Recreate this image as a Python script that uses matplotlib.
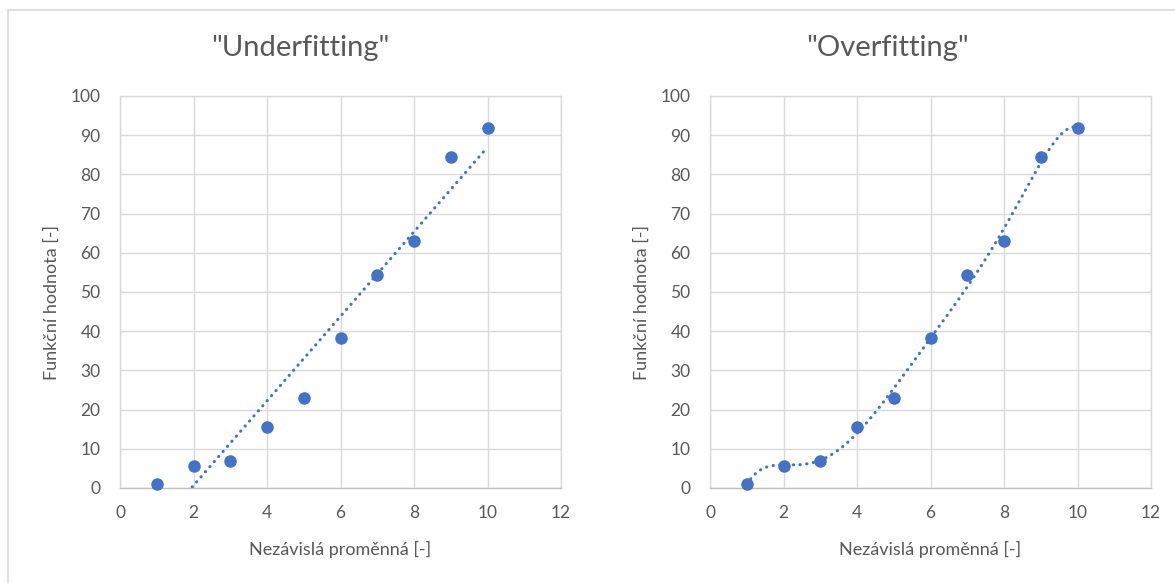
import numpy as np
import matplotlib
matplotlib.use("Agg")
import matplotlib.pyplot as plt
from matplotlib.patches import Rectangle

# measured points (same data set in both panels)
x_vals = [1, 2, 3, 4, 5, 6, 7, 8, 9, 10]
y_vals = [1.0, 5.6, 7.0, 15.6, 23.0, 38.3, 54.3, 63.0, 84.4, 91.8]

titles = ['"Underfitting"', '"Overfitting"']
x_label = "Nezávislá proměnná [-]"
y_label = "Funkční hodnota [-]"

# trendline orders: straight line vs. high-order polynomial
fit_orders = [1, 6]

blue = "#4472C4"
text_col = "#595959"
grid_col = "#D9D9D9"

plt.rcParams['font.family'] = ['Lato', 'DejaVu Sans']

W, H = 1175, 583
fig = plt.figure(figsize=(W / 100, H / 100), dpi=100)

# chart area frame
fig.patches.append(Rectangle((8 / W, -0.1), 1.2, 1 - 10 / H + 0.1, transform=fig.transFigure,
                             fill=False, edgecolor="#D9D9D9", linewidth=1.2))

ax_left = [120, 710]
ax_w = 441
ax_top, ax_bot = 96, 488
title_x = [300, 888]

for k in range(2):
    ax = fig.add_axes([ax_left[k] / W, 1 - ax_bot / H, ax_w / W, (ax_bot - ax_top) / H])
    ax.set_xlim(0, 12)
    ax.set_ylim(0, 100)
    ax.set_xticks(np.arange(0, 13, 2))
    ax.set_yticks(np.arange(0, 101, 10))
    ax.grid(True, color=grid_col, linewidth=1.0)
    ax.set_axisbelow(True)
    for s in ax.spines.values():
        s.set_color(grid_col)
        s.set_linewidth(1.0)
    ax.spines['bottom'].set_color("#BFBFBF")
    ax.tick_params(length=0, labelsize=12.5, labelcolor=text_col)
    ax.tick_params(axis='x', pad=12)
    ax.tick_params(axis='y', pad=14)

    # trendline
    coef = np.polyfit(x_vals, y_vals, fit_orders[k])
    xs = np.linspace(x_vals[0], x_vals[-1], 300)
    ys = np.polyval(coef, xs)
    keep = ys >= 0
    ax.plot(xs[keep], ys[keep], color=blue, linewidth=2.2,
            linestyle=(0, (0.1, 2.1)), dash_capstyle='round', zorder=3)

    ax.plot(x_vals, y_vals, linestyle='none', marker='o', markersize=8,
            color=blue, zorder=4, clip_on=False)

    cx = (ax_left[k] + ax_w / 2) / W
    fig.text(title_x[k] / W, 1 - 48 / H, titles[k], ha='center', va='center',
             fontsize=21, color=text_col)
    fig.text(cx, 1 - 549 / H, x_label, ha='center', va='center', fontsize=13, color=text_col)
    fig.text((ax_left[k] - 68) / W, 1 - 303 / H, y_label, ha='center', va='center',
             rotation=90, fontsize=13, color=text_col)

fig.savefig("out.png", dpi=100)
